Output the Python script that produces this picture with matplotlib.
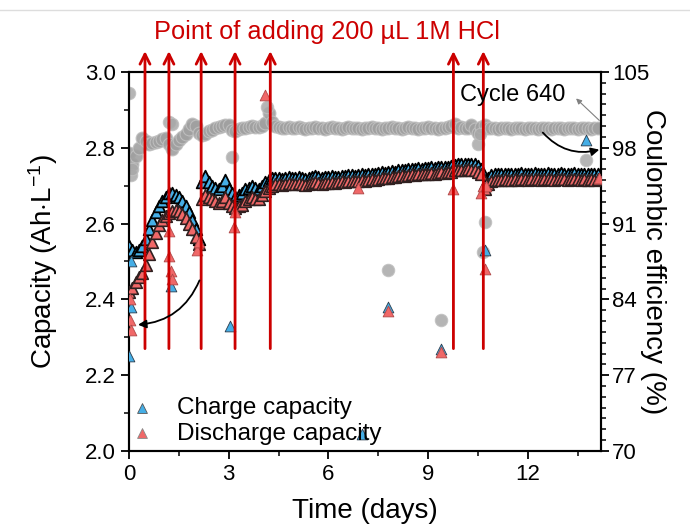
import matplotlib
matplotlib.use("Agg")
import matplotlib.pyplot as plt
from matplotlib.ticker import MultipleLocator

plt.rcParams["font.family"] = ["Liberation Sans", "DejaVu Sans"]
plt.rcParams["mathtext.fontset"] = "custom"
plt.rcParams["mathtext.rm"] = "Liberation Sans"
plt.rcParams["mathtext.it"] = "Liberation Sans:italic"

# sampling times (days) of the main curves
days = [
    0.0, 0.1, 0.2, 0.3, 0.4, 0.5, 0.6, 0.7, 0.8, 0.9,
    1.0, 1.1, 1.2, 1.3, 1.4, 1.5, 1.6, 1.7, 1.8, 1.9,
    2.0, 2.1, 2.2, 2.3, 2.4, 2.5, 2.6, 2.7, 2.8, 2.9,
    3.0, 3.1, 3.2, 3.3, 3.4, 3.5, 3.6, 3.7, 3.8, 3.9,
    4.0, 4.1, 4.2, 4.3, 4.4, 4.5, 4.6, 4.7, 4.8, 4.9,
    5.0, 5.1, 5.2, 5.3, 5.4, 5.5, 5.6, 5.7, 5.8, 5.9,
    6.0, 6.1, 6.2, 6.3, 6.4, 6.5, 6.6, 6.7, 6.8, 6.9,
    7.0, 7.1, 7.2, 7.3, 7.4, 7.5, 7.6, 7.7, 7.8, 7.9,
    8.0, 8.1, 8.2, 8.3, 8.4, 8.5, 8.6, 8.7, 8.8, 8.9,
    9.0, 9.1, 9.2, 9.3, 9.4, 9.5, 9.6, 9.7, 9.8, 9.9,
    10.0, 10.1, 10.2, 10.3, 10.4, 10.5, 10.6, 10.7, 10.8, 10.9,
    11.0, 11.1, 11.2, 11.3, 11.4, 11.5, 11.6, 11.7, 11.8, 11.9,
    12.0, 12.1, 12.2, 12.3, 12.4, 12.5, 12.6, 12.7, 12.8, 12.9,
    13.0, 13.1, 13.2, 13.3, 13.4, 13.5, 13.6, 13.7, 13.8, 13.9,
    14.0, 14.1,
]

charge = [
    2.54, 2.53, 2.525, 2.53, 2.54, 2.56, 2.585, 2.61, 2.63, 2.645,
    2.66, 2.67, 2.68, 2.68, 2.675, 2.67, 2.66, 2.645, 2.63, 2.61,
    2.585, 2.56, 2.71, 2.725, 2.71, 2.70, 2.695, 2.69, 2.70, 2.715,
    2.69, 2.68, 2.67, 2.675, 2.68, 2.69, 2.695, 2.70, 2.695, 2.69,
    2.70, 2.71, 2.715, 2.72, 2.72, 2.72, 2.718, 2.72, 2.722, 2.72,
    2.72, 2.722, 2.72, 2.718, 2.72, 2.722, 2.725, 2.722, 2.72, 2.722,
    2.723, 2.725, 2.722, 2.724, 2.726, 2.725, 2.727, 2.728, 2.726, 2.728,
    2.73, 2.728, 2.73, 2.732, 2.73, 2.733, 2.735, 2.734, 2.736, 2.738,
    2.737, 2.74, 2.742, 2.74, 2.743, 2.745, 2.744, 2.746, 2.745, 2.747,
    2.746, 2.748, 2.747, 2.749, 2.75, 2.748, 2.75, 2.752, 2.755, 2.756,
    2.757, 2.756, 2.758, 2.757, 2.756, 2.752, 2.745, 2.705, 2.72, 2.728,
    2.73, 2.731, 2.73, 2.732, 2.731, 2.73, 2.732, 2.731, 2.733, 2.732,
    2.731, 2.732, 2.733, 2.732, 2.731, 2.732, 2.733, 2.732, 2.731, 2.732,
    2.733, 2.732, 2.731, 2.732, 2.733, 2.732, 2.731, 2.732, 2.731, 2.732,
    2.731, 2.732,
]

discharge = [
    2.42, 2.43, 2.445, 2.46, 2.47, 2.49, 2.52, 2.55, 2.575, 2.595,
    2.61, 2.62, 2.628, 2.633, 2.635, 2.632, 2.625, 2.615, 2.60, 2.585,
    2.565, 2.545, 2.665, 2.675, 2.67, 2.665, 2.66, 2.655, 2.66, 2.67,
    2.655, 2.645, 2.64, 2.645, 2.65, 2.66, 2.665, 2.67, 2.665, 2.665,
    2.675, 2.685, 2.695, 2.70, 2.705, 2.705, 2.703, 2.705, 2.707, 2.705,
    2.705, 2.707, 2.705, 2.703, 2.705, 2.707, 2.71, 2.707, 2.705, 2.707,
    2.708, 2.71, 2.707, 2.709, 2.711, 2.71, 2.712, 2.713, 2.711, 2.713,
    2.715, 2.713, 2.715, 2.717, 2.715, 2.718, 2.72, 2.719, 2.721, 2.723,
    2.722, 2.725, 2.727, 2.725, 2.728, 2.73, 2.729, 2.731, 2.73, 2.732,
    2.731, 2.733, 2.732, 2.734, 2.735, 2.733, 2.735, 2.737, 2.74, 2.741,
    2.742, 2.741, 2.743, 2.742, 2.741, 2.737, 2.73, 2.69, 2.705, 2.713,
    2.715, 2.716, 2.715, 2.717, 2.716, 2.715, 2.717, 2.716, 2.718, 2.717,
    2.716, 2.717, 2.718, 2.717, 2.716, 2.717, 2.718, 2.717, 2.716, 2.717,
    2.718, 2.717, 2.716, 2.717, 2.718, 2.717, 2.716, 2.717, 2.716, 2.717,
    2.716, 2.717,
]

efficiency = [
    97.5, 96.5, 97.2, 98.0, 98.9, 98.6, 98.3, 98.4, 98.5, 98.6,
    98.8, 98.9, 98.3, 97.9, 98.3, 98.7, 99.0, 99.3, 99.7, 100.2,
    100.0, 99.4, 99.2, 99.3, 99.5, 99.6, 99.8, 99.9, 100.0, 100.1,
    100.1, 99.6, 99.5, 99.7, 99.8, 99.8, 99.9, 100.0, 99.9, 99.9,
    100.0, 100.3, 101.2, 100.4, 100.0, 99.9, 99.8, 99.8, 99.9, 99.8,
    99.8, 99.9, 99.8, 99.7, 99.8, 99.8, 99.9, 99.8, 99.8, 99.7,
    99.8, 99.9, 99.8, 99.8, 99.7, 99.8, 99.9, 99.8, 99.8, 99.8,
    99.7, 99.8, 99.8, 99.9, 99.8, 99.8, 99.7, 99.8, 99.8, 99.9,
    99.8, 99.8, 99.7, 99.8, 99.9, 99.8, 99.8, 99.7, 99.8, 99.8,
    99.9, 99.8, 99.8, 99.7, 99.8, 99.8, 99.9, 100.0, 100.2, 99.8,
    99.9, 99.8, 99.8, 100.1, 99.7, 99.4, 99.9, 100.1, 99.8, 99.8,
    99.8, 99.7, 99.8, 99.8, 99.8, 99.7, 99.8, 99.8, 99.8, 99.7,
    99.8, 99.8, 99.8, 99.7, 99.8, 99.8, 99.8, 99.7, 99.8, 99.8,
    99.8, 99.7, 99.8, 99.8, 99.8, 99.7, 99.8, 99.8, 99.8, 99.7,
    99.8, 99.8,
]

# isolated points
charge_out_days = [0.0, 0.05, 0.05, 1.25, 3.05, 7.0, 7.8, 9.4, 10.7, 13.75]
charge_out_vals = [2.25, 2.50, 2.38, 2.435, 2.33, 2.045, 2.38, 2.27, 2.53, 2.82]
discharge_out_days = [0.03, 0.03, 0.05, 1.2, 1.2, 1.25, 1.3, 2.05, 2.1, 3.15, 3.2,
                      4.1, 6.9, 7.8, 9.4, 9.75, 10.6, 10.65, 10.7, 10.75, 14.15]
discharge_out_vals = [2.40, 2.345, 2.32, 2.58, 2.515, 2.475, 2.455, 2.53, 2.55, 2.59, 2.63,
                      2.94, 2.695, 2.37, 2.26, 2.69, 2.68, 2.70, 2.48, 2.70, 2.72]
efficiency_out_days = [0.0, 0.05, 0.1, 1.2, 1.3, 3.1, 4.15, 7.8, 9.4, 10.5, 10.55, 10.65, 10.7, 13.75]
efficiency_out_vals = [103.1, 95.5, 96.0, 100.4, 100.2, 97.1, 101.8, 86.7, 82.1, 98.3, 99.3, 88.4, 91.1, 96.9]

hcl_days = [0.48, 1.2, 2.17, 3.19, 4.25, 9.76, 10.66]

fig = plt.figure(figsize=(6.9, 5.25), dpi=100)
ax = fig.add_axes([0.187, 0.141, 0.684, 0.722])
ax2 = ax.twinx()
ax.set_zorder(ax2.get_zorder() + 1)
ax.patch.set_visible(False)

# coulombic efficiency (right axis)
ax2.scatter(days, efficiency, s=85, marker="o", facecolor="#a0a0a0",
            edgecolor="#c0c0c0", linewidth=0.8, alpha=0.9)
ax2.scatter(efficiency_out_days, efficiency_out_vals, s=80, marker="o",
            facecolor="#a8a8a8", edgecolor="#c0c0c0", linewidth=0.8, alpha=0.85)

blue = "#45aee6"
red = "#f06868"
ax.scatter(days, charge, s=70, marker="^", facecolor=blue, edgecolor="black",
           linewidth=1.3, zorder=3)
ax.scatter(charge_out_days, charge_out_vals, s=60, marker="^", facecolor=blue,
           edgecolor="#2a3a4a", linewidth=0.6, zorder=3)
ax.scatter(days, discharge, s=70, marker="^", facecolor=red, edgecolor="#302020",
           linewidth=1.2, zorder=4)
ax.scatter(discharge_out_days, discharge_out_vals, s=60, marker="^", facecolor=red,
           edgecolor="#b04848", linewidth=0.6, zorder=4)

# HCl addition arrows
for d in hcl_days:
    ax.annotate("", xy=(d, 3.055), xytext=(d, 2.27), xycoords="data",
                annotation_clip=False,
                arrowprops=dict(arrowstyle="->", color="#cc0000", lw=2,
                                mutation_scale=18, shrinkA=0, shrinkB=0),
                zorder=6)
ax.text(5.96, 3.105, "Point of adding 200 µL 1M HCl", color="#cc0000",
        fontsize=18.3, ha="center", va="center", clip_on=False)

# cycle label
ax.text(9.95, 2.94, "Cycle 640", fontsize=17, ha="left", va="center", zorder=7)
ax.annotate("", xy=(13.45, 2.93), xytext=(14.15, 2.872),
            arrowprops=dict(arrowstyle="-|>", color="#808080", lw=0.8,
                            mutation_scale=8, shrinkA=0, shrinkB=0), zorder=7)
ax.annotate("", xy=(14.15, 2.795), xytext=(12.45, 2.84),
            annotation_clip=False,
            arrowprops=dict(arrowstyle="-|>", color="black", lw=1.3,
                            mutation_scale=12, shrinkA=0, shrinkB=0,
                            connectionstyle="arc3,rad=0.3"), zorder=7)
ax.annotate("", xy=(0.27, 2.333), xytext=(2.12, 2.45),
            arrowprops=dict(arrowstyle="-|>", color="black", lw=1.3,
                            mutation_scale=12, shrinkA=0, shrinkB=0,
                            connectionstyle="arc3,rad=-0.3"), zorder=7)

ax.set_xlim(0, 14.2)
ax.set_ylim(2.0, 3.0)
ax2.set_ylim(70, 105)

ax.xaxis.set_major_locator(MultipleLocator(3))
ax.xaxis.set_minor_locator(MultipleLocator(1.5))
ax.yaxis.set_major_locator(MultipleLocator(0.2))
ax.yaxis.set_minor_locator(MultipleLocator(0.1))
ax2.yaxis.set_major_locator(MultipleLocator(7))
ax2.yaxis.set_minor_locator(MultipleLocator(1))

ax.tick_params(axis="both", which="major", labelsize=16, length=6, width=1.3, direction="out")
ax.tick_params(axis="both", which="minor", length=3.5, width=1.1, direction="out")
ax2.tick_params(axis="y", which="major", labelsize=16, length=6, width=1.3, direction="out",
                pad=2)
ax2.tick_params(axis="y", which="minor", length=3.5, width=1.1, direction="out")
ax.set_yticks([2.0, 2.2, 2.4, 2.6, 2.8, 3.0])
ax.set_yticklabels(["2.0", "2.2", "2.4", "2.6", "2.8", "3.0"])

for a in (ax, ax2):
    for sp in a.spines.values():
        sp.set_linewidth(1.5)

ax.set_xlabel("Time (days)", fontsize=20, va="center")
ax.xaxis.set_label_coords(0.5, -0.158)
ax.set_ylabel(r"Capacity (Ah$\cdot$L$^{\mathrm{-1}}$)", fontsize=20, va="center")
ax.yaxis.set_label_coords(-0.183, 0.5)
ax2.set_ylabel("Coulombic efficiency (%)", fontsize=20, rotation=270, va="center")
ax2.yaxis.set_label_coords(1.11, 0.5)

h1 = ax.scatter([], [], s=50, marker="^", facecolor=blue, edgecolor="#555555", linewidth=0.6)
h2 = ax.scatter([], [], s=50, marker="^", facecolor=red, edgecolor="#888888", linewidth=0.6)
leg = ax.legend([h1, h2], ["Charge capacity", "Discharge capacity"], loc="lower left",
                bbox_to_anchor=(-0.03, -0.028), frameon=False, fontsize=17.5,
                handlelength=0.8, handletextpad=1.05, labelspacing=0.15, borderaxespad=0.3)

fig.add_artist(plt.Line2D([0, 1], [0.981, 0.981], color="#dddddd", lw=1))

fig.savefig("out.png", dpi=100)
